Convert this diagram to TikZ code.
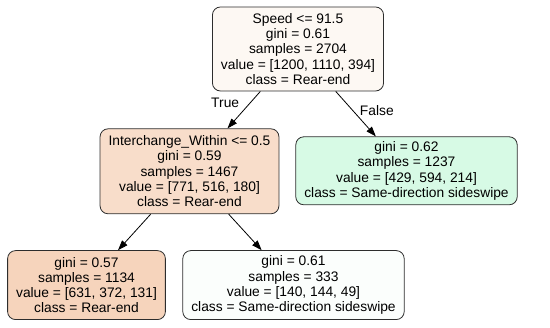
\documentclass[tikz,border=0pt]{standalone}
\usepackage{fontspec}
\setmainfont{Liberation Sans}
\usepackage{tikz}
\usetikzlibrary{positioning, arrows.meta}
\definecolor{RootFill}{HTML}{FDF8F3}
\definecolor{InterFill}{HTML}{F8DDCA}
\definecolor{FalseFill}{HTML}{D7FAE5}
\definecolor{RearFill}{HTML}{F6D4BC}
\definecolor{SideFill}{HTML}{FBFEFC}
\definecolor{BoxLine}{RGB}{45,45,45}

\begin{document}
\begin{tikzpicture}[every node/.style={font=\fontsize{13.8}{15.3}\selectfont},
  box/.style={rectangle, rounded corners=8pt, draw=BoxLine, line width=0.8pt, align=center, inner xsep=8.5pt, inner ysep=2pt},
  arrow/.style={-{Triangle[length=10pt, width=7pt]}, line width=0.8pt, black},
  lbl/.style={inner sep=0pt}
]
    \path[use as bounding box] (0,0) rectangle (550pt,-328pt);

    \node[box, fill=RootFill, minimum height=84pt] (root) at (298pt,-49pt)
      {Speed <= 91.5\\gini = 0.61\\samples = 2704\\value = [1200, 1110, 394]\\class = Rear-end};
    \node[box, fill=InterFill, minimum height=85pt, below=37pt of root, xshift=-108.5pt] (inter)
      {Interchange\_Within <= 0.5\\gini = 0.59\\samples = 1467\\value = [771, 516, 180]\\class = Rear-end};
    \node[box, fill=FalseFill, minimum height=68pt, below=45pt of root, xshift=108.5pt] (fast)
      {gini = 0.62\\samples = 1237\\value = [429, 594, 214]\\class = Same-direction sideswipe};
    \node[box, fill=RearFill, minimum height=69pt, below=36pt of inter, xshift=-103pt] (rear)
      {gini = 0.57\\samples = 1134\\value = [631, 372, 131]\\class = Rear-end};
    \node[box, fill=SideFill, minimum height=69pt, below=36pt of inter, xshift=104pt] (side)
      {gini = 0.61\\samples = 333\\value = [140, 144, 49]\\class = Same-direction sideswipe};

    \draw[arrow] (root) -- node[lbl, pos=0.3, left=11pt] {True} (inter);
    \draw[arrow] (root) -- node[lbl, pos=0.42, right=7pt] {False} (fast);
    \draw[arrow] (inter) -- (rear);
    \draw[arrow] (inter) -- (side);
\end{tikzpicture}
\end{document}
